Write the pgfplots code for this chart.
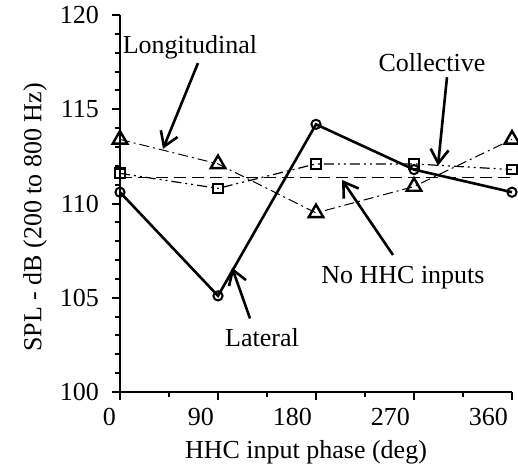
\documentclass[border=0pt]{standalone}
\usepackage{fontspec}
\setmainfont{Liberation Serif}
\usepackage{pgfplots}
\pgfplotsset{compat=1.18}
\usetikzlibrary{arrows.meta}
\begin{document}
\fontsize{13}{15}\selectfont
\begin{tikzpicture}
\path[use as bounding box] (-60pt,-40pt) rectangle (199pt,196pt);
\begin{axis}[
  scale only axis, width=196pt, height=188.5pt,
  at={(0,0)}, anchor=south west,
  xmin=0, xmax=360, ymin=100, ymax=120,
  axis x line=bottom, axis y line=left,
  axis line style={-, line width=1pt},
  xtick={0,90,180,270,360}, ytick={100,105,110,115,120},
  minor x tick num=1, minor y tick num=4,
  tick align=outside, tick style={line width=1pt, black},
  major tick length=4pt, minor tick length=2.5pt,
  /pgf/number format/assume math mode=true,
  ticklabel style={font=\fontsize{13}{15}\selectfont},
  xticklabel style={anchor=north east, xshift=2.5pt, yshift=0.5pt},
  yticklabel style={xshift=-2pt},
  label style={font=\fontsize{13}{15}\selectfont},
  xlabel={HHC input phase (deg)},
  ylabel={SPL - dB (200 to 800 Hz)},
  xlabel style={at={(axis description cs:0.5,0)}, anchor=center, yshift=-30pt, xshift=-5pt},
  ylabel style={at={(axis description cs:0,0.5)}, anchor=center, yshift=42.5pt, xshift=-7pt},
  clip=false,
]
% No HHC inputs
\addplot[black, line width=0.6pt, dash pattern=on 6pt off 3pt, no marks] coordinates {(0,111.4) (360,111.4)};
% Longitudinal
\addplot[black, line width=0.5pt, dash pattern=on 5pt off 2pt on 1pt off 2pt, mark=triangle, mark size=4.2pt, mark options={solid, line width=1.2pt}] coordinates {
(0,113.4) (90,112.1) (180,109.5) (270,110.9) (360,113.4)};
% Collective
\addplot[black, line width=0.6pt, dash pattern=on 5pt off 2pt on 1pt off 2pt on 1pt off 2pt, mark=square, mark size=2.4pt, mark options={solid, line width=1.1pt}] coordinates {
(0,111.6) (90,110.8) (180,112.1) (270,112.1) (360,111.8)};
% Lateral
\addplot[black, line width=1.3pt, mark=o, mark size=2.3pt, mark options={solid, line width=1pt}] coordinates {
(0,110.6) (90,105.1) (180,114.2) (270,111.8) (360,110.6)};
% annotations
\node[font=\fontsize{13}{15}\selectfont] at (axis cs:64.3,118.3) {Longitudinal};
\draw[line width=1.3pt, -{Straight Barb[length=7pt,width=9pt,line width=1.3pt]}] (axis cs:71.6,117.45) -- (axis cs:39.5,112.9);
\node[font=\fontsize{13}{15}\selectfont] at (axis cs:286.5,117.5) {Collective};
\draw[line width=1.3pt, -{Straight Barb[length=7pt,width=9pt,line width=1.3pt]}] (axis cs:300.3,116.7) -- (axis cs:292,112.0);
\node[font=\fontsize{13}{15}\selectfont] at (axis cs:259.9,106.05) {No HHC inputs};
\draw[line width=1.3pt, -{Straight Barb[length=7pt,width=9pt,line width=1.3pt]}] (axis cs:250.7,107.27) -- (axis cs:203.9,111.25);
\node[font=\fontsize{13}{15}\selectfont] at (axis cs:130.4,102.9) {Lateral};
\draw[line width=1.3pt, -{Straight Barb[length=7pt,width=9pt,line width=1.3pt]}] (axis cs:119.4,103.9) -- (axis cs:102.9,106.6);
\end{axis}
\end{tikzpicture}
\end{document}
